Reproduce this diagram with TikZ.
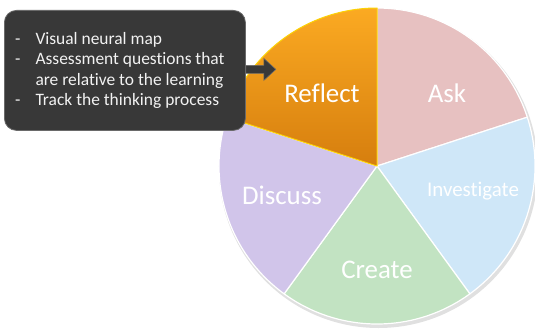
\documentclass[tikz,border=0pt]{standalone}
\usepackage{fontspec}
\setmainfont{Carlito}[Ligatures={NoCommon}]
\usetikzlibrary{calc}
\definecolor{cReflectT}{HTML}{FBAA22}
\definecolor{cReflectB}{HTML}{D67E0E}
\definecolor{cAsk}{HTML}{E7C1C1}
\definecolor{cInv}{HTML}{CFE7F8}
\definecolor{cCreate}{HTML}{C2E3C2}
\definecolor{cDisc}{HTML}{D1C5EA}
\definecolor{cBox}{HTML}{383838}
\definecolor{cBoxEdge}{HTML}{6A6A6A}
\definecolor{cText}{HTML}{F2F2F2}
\tikzset{
  slice/.style={draw=white, line width=1.2pt, line join=round},
  lbl/.style={text=white, font=\fontsize{27}{27}\selectfont, inner sep=0pt},
}
\begin{document}
\begin{tikzpicture}[x=1bp,y=1bp]
\useasboundingbox (0,0) rectangle (535,333);
\coordinate (c) at (377,167);
\def\R{158}
% soft shadow
\fill[black!12] ($(c)+(1.5,-2.5)$) circle (\R+1.5);
% slices
\fill[cAsk, slice] (c) -- ++(18:\R) arc[start angle=18, end angle=90, radius=\R] -- cycle;
\fill[cInv, slice] (c) -- ++(-54:\R) arc[start angle=-54, end angle=18, radius=\R] -- cycle;
\fill[cCreate, slice] (c) -- ++(-126:\R) arc[start angle=-126, end angle=-54, radius=\R] -- cycle;
\fill[cDisc, slice] (c) -- ++(162:\R) arc[start angle=162, end angle=234, radius=\R] -- cycle;
\shade[top color=cReflectT, bottom color=cReflectB, draw=yellow!70!orange, line width=1pt, line join=round]
  (c) -- ++(90:\R) arc[start angle=90, end angle=162, radius=\R] -- cycle;
% labels
\node[lbl] (reflect) at (322,240) {Reflect};
\node[lbl] (ask) at (447,240) {Ask};
\node[lbl, font=\fontsize{21}{21}\selectfont] (investigate) at (473,142) {Investigate};
\node[lbl] (create) at (377,63) {Create};
\node[lbl] (discuss) at (282,138) {Discuss};
% callout box
\node[draw=cBoxEdge, line width=0.8pt, fill=cBox, rounded corners=12bp, minimum width=241bp, minimum height=120bp, inner sep=0pt, anchor=north west] (box) at (4,323) {};
\node[anchor=north west, inner sep=0pt, text=cText, font=\fontsize{17.5}{20.5}\selectfont, align=left] (txt) at (15,303)
{\begin{tabular}{@{}l@{\hspace{15bp}}l@{}}
- & Visual neural map\\
- & Assessment questions that\\
   & are relative to the learning\\
- & Track the thinking process
\end{tabular}};
% block arrow
\fill[cBox, draw=cBoxEdge, line width=0.6pt]
  ($(box.east)+(0,5)$) -- ++(18,0) -- ++(0,7) -- ++(12,-11) -- ++(-12,-11) -- ++(0,7) -- ++(-18,0) -- cycle;
\end{tikzpicture}
\end{document}
